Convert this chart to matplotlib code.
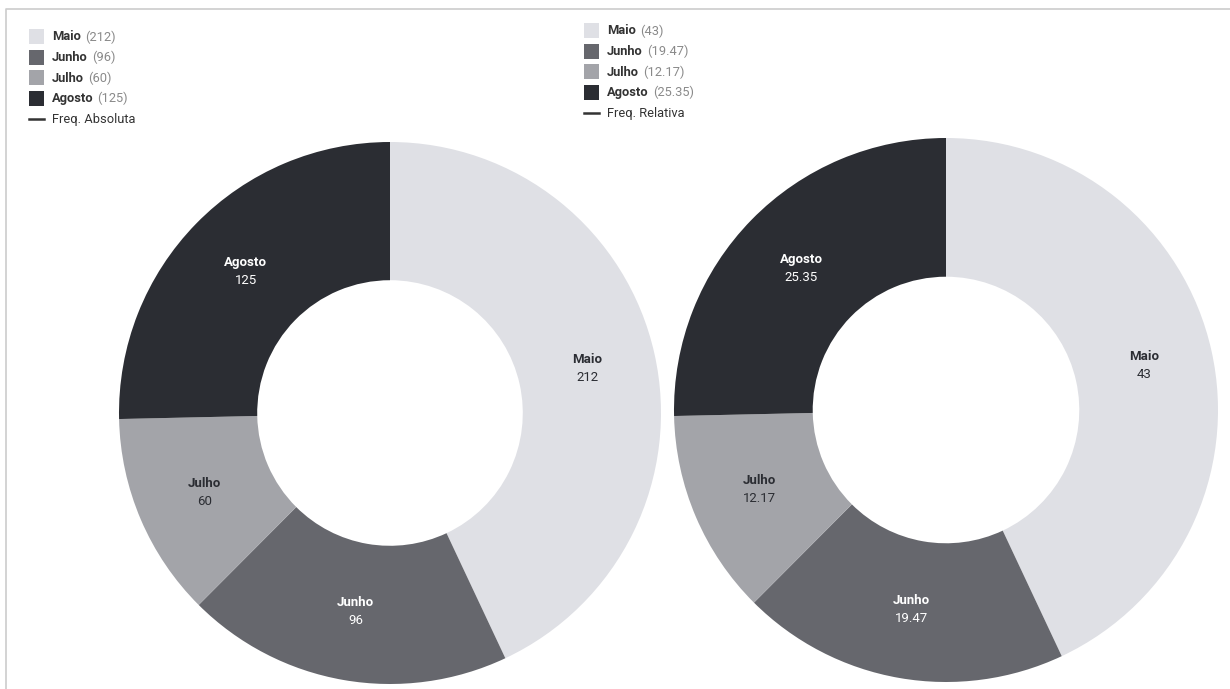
import matplotlib.pyplot as plt
from matplotlib.patches import Rectangle
import numpy as np

plt.rcParams['font.family'] = ['Roboto', 'DejaVu Sans']

meses = ['Maio', 'Junho', 'Julho', 'Agosto']
freq_abs = [212, 96, 60, 125]
freq_rel = [43, 19.47, 12.17, 25.35]
abs_labels = ['212', '96', '60', '125']
rel_labels = ['43', '19.47', '12.17', '25.35']
cores = ['#dfe0e5', '#66676d', '#a3a4a9', '#2b2d33']
cores_texto = ['#2b2d33', 'white', '#2b2d33', 'white']

fig = plt.figure(figsize=(12.3, 6.89), dpi=100)
ax = fig.add_axes([0, 0, 1, 1])
ax.set_xlim(0, 1230)
ax.set_ylim(0, 689)
ax.axis('off')

H = 689


def donut(valores, textos, cx, cy, r, titulo, lx, ly):
    cy = H - cy
    ax.pie(valores, colors=cores, startangle=90, counterclock=False,
           center=(cx, cy), radius=r, frame=True,
           wedgeprops=dict(width=r * 0.51, linewidth=0))
    total = sum(valores)
    acum = 0
    rm = r * 0.745
    for v, nome, txt, ct in zip(valores, meses, textos, cores_texto):
        meio = (acum + v / 2) / total * 2 * np.pi
        acum += v
        x = cx + rm * np.sin(meio)
        y = cy + rm * np.cos(meio)
        ax.text(x, y + 9, nome, ha='center', va='center', fontsize=9.5,
                fontweight='bold', color=ct)
        ax.text(x, y - 9, txt, ha='center', va='center', fontsize=9.5,
                color=ct)
    # legenda
    for i, (nome, txt) in enumerate(zip(meses, textos)):
        yy = H - (ly + i * 20.5)
        ax.add_patch(Rectangle((lx - 1, yy - 7), 15, 15, color=cores[i], lw=0))
        t = ax.text(lx + 22, yy, nome, ha='left', va='center', fontsize=9.3,
                    fontweight='bold', color='#333333')
        fig.canvas.draw()
        bb = t.get_window_extent()
        ax.text(bb.x1 + 4, yy, '(' + txt + ')', ha='left', va='center',
                fontsize=9.3, color='#8a8a8a')
    yy = H - (ly + 4 * 20.5)
    ax.plot([lx - 1, lx + 14], [yy, yy], color='#333333', lw=1.8)
    ax.text(lx + 22, yy, titulo, ha='left', va='center', fontsize=9.3,
            color='#333333')


donut(freq_abs, abs_labels, 390, 413, 271, 'Freq. Absoluta', 30, 37)
donut(freq_rel, rel_labels, 946, 410, 272, 'Freq. Relativa', 585, 31)

ax.set_xlim(0, 1230)
ax.set_ylim(0, 689)
ax.set_aspect('auto')

# moldura
ax.plot([6, 6, 1230], [0, H - 9, H - 9], color='#cccccc', lw=1.2)

fig.savefig('out.png', dpi=100)
